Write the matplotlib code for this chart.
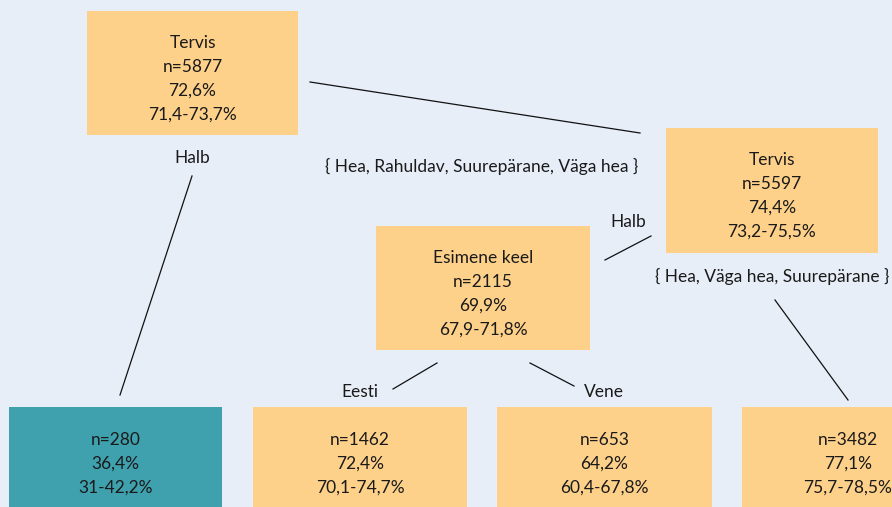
import matplotlib.pyplot as plt
from matplotlib.patches import Rectangle

plt.rcParams["font.family"] = ["Lato", "DejaVu Sans"]

BG = "#e8eef8"
ORANGE = "#fed18b"
TEAL = "#3fa1ae"

# node contents
node_titles = ["Tervis", "Tervis", "Esimene keel", "", "", "", ""]
node_n = [5877, 5597, 2115, 280, 1462, 653, 3482]
node_pct = ["72,6%", "74,4%", "69,9%", "36,4%", "72,4%", "64,2%", "77,1%"]
node_ci = ["71,4-73,7%", "73,2-75,5%", "67,9-71,8%", "31-42,2%",
           "70,1-74,7%", "60,4-67,8%", "75,7-78,5%"]
node_color = [ORANGE, ORANGE, ORANGE, TEAL, ORANGE, ORANGE, ORANGE]

# layout in pixels: left, top, width, height
node_box = [(87, 11, 211, 124), (666, 128, 212, 125), (376, 226, 214, 124),
            (9, 407, 213, 110), (253, 407, 214, 110), (497, 407, 215, 110),
            (742, 407, 160, 110)]

# edges: (x0, y0, x1, y1) and labels
edges = [(310, 82, 640, 133), (192, 176, 120, 395), (605, 260, 651, 236),
         (775, 300, 848, 400), (393, 389, 437, 363), (530, 363, 574, 386)]
edge_labels = ["Halb", "{ Hea, Rahuldav, Suurepärane, Väga hea }", "Halb",
               "{ Hea, Väga hea, Suurepärane }", "Eesti", "Vene"]
label_pos = [(192, 158), (482, 166), (628, 222), (772, 276), (360, 392), (604, 392)]

fig = plt.figure(figsize=(8.92, 5.07), dpi=100)
fig.patch.set_facecolor(BG)
ax = fig.add_axes([0, 0, 1, 1])
ax.set_xlim(0, 892)
ax.set_ylim(507, 0)
ax.axis("off")

for i in range(len(node_n)):
    x, y, w, h = node_box[i]
    ax.add_patch(Rectangle((x, y), w, h, facecolor=node_color[i], edgecolor="none"))
    lines = []
    if node_titles[i]:
        lines.append(node_titles[i])
    lines += ["n=%d" % node_n[i], node_pct[i], node_ci[i]]
    cx = x + w / 2 if i != 6 else 848
    y0 = y + 32 if node_titles[i] else y + 33
    for k, t in enumerate(lines):
        ax.text(cx, y0 + k * 24, t, ha="center", va="center", fontsize=12.5,
                color="#1a1a1a")

for (x0, y0, x1, y1) in edges:
    ax.plot([x0, x1], [y0, y1], color="#111111", lw=0.9)

for t, (lx, ly) in zip(edge_labels, label_pos):
    ax.text(lx, ly, t, ha="center", va="center", fontsize=12.5, color="#1a1a1a")

plt.savefig("out.png", dpi=100, facecolor=BG)
